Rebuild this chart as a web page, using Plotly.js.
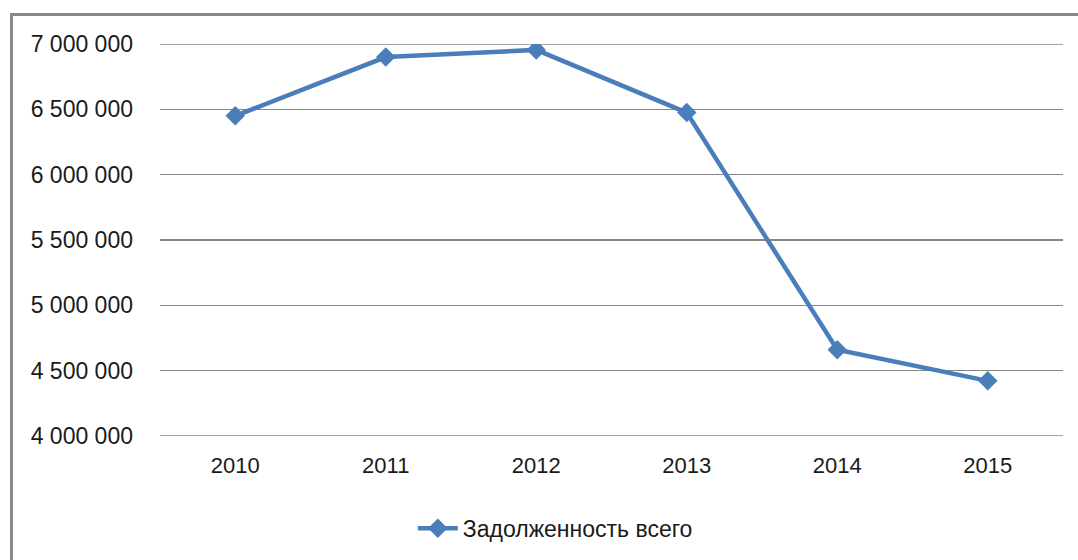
<!DOCTYPE html>
<html>
<head>
<meta charset="utf-8">
<script src="https://cdn.plot.ly/plotly-3.0.1.min.js"></script>
<style>
  html, body { margin: 0; padding: 0; background: #fff; }
  #wrap { position: relative; width: 1078px; height: 560px; }
  #chart { width: 1078px; height: 560px; }
  #frame { position: absolute; left: 10px; top: 13px; right: 0; bottom: 0;
           border-left: 3px solid #888888; border-top: 3px solid #888888;
           pointer-events: none; }
</style>
</head>
<body>
<div id="wrap">
  <div id="chart"></div>
  <div id="frame"></div>
</div>
<script>
const years = ["2010", "2011", "2012", "2013", "2014", "2015"];
const debtTotal = [6450000, 6900000, 6955000, 6475000, 4660000, 4422000];
const seriesName = "Задолженность всего";
const yTicks = [4000000, 4500000, 5000000, 5500000, 6000000, 6500000, 7000000];

const FONT = '"Liberation Sans", Arial, sans-serif';
const GRID = '#868686';

const trace = {
  x: years,
  y: debtTotal,
  type: 'scatter',
  mode: 'lines+markers',
  name: seriesName,
  line: { color: '#4a7ebb', width: 4.5 },
  marker: { symbol: 'diamond', size: 15, color: '#4a7ebb', line: { width: 0 } },
  showlegend: true
};

const yMin = yTicks[0];
const yMax = yTicks[yTicks.length - 1];

const layout = {
  width: 1078,
  height: 560,
  margin: { l: 160, r: 15, t: 44, b: 123 },
  paper_bgcolor: '#ffffff',
  plot_bgcolor: '#ffffff',
  separators: ', ',
  font: { family: FONT, size: 23, color: '#1a1a1a' },
  xaxis: {
    type: 'category',
    range: [-0.5, 5.5],
    showgrid: false,
    zeroline: false,
    showline: false,
    ticks: '',
    ticklabelstandoff: 14,
    tickfont: { family: FONT, size: 22, color: '#1a1a1a' },
    fixedrange: true
  },
  yaxis: {
    range: [yMin, yMax],
    tickvals: yTicks,
    tickformat: ',d',
    showgrid: true,
    gridcolor: GRID,
    gridwidth: 1.3,
    zeroline: false,
    showline: false,
    ticks: '',
    ticklabelstandoff: 26,
    tickfont: { family: FONT, size: 23, color: '#1a1a1a' },
    fixedrange: true
  },
  shapes: [yMin, yMax].map(v => ({
    type: 'line', xref: 'paper', yref: 'y',
    x0: 0, x1: 1, y0: v, y1: v,
    line: { color: GRID, width: 1.3 },
    layer: 'below'
  })),
  showlegend: true,
  legend: {
    orientation: 'h',
    x: 0.28,
    xanchor: 'left',
    y: -0.232,
    yanchor: 'middle',
    font: { family: FONT, size: 23, color: '#1a1a1a' },
    bgcolor: 'rgba(0,0,0,0)',
    itemwidth: 40
  }
};

Plotly.newPlot('chart', [trace], layout, { displayModeBar: false, staticPlot: true });
</script>
</body>
</html>
